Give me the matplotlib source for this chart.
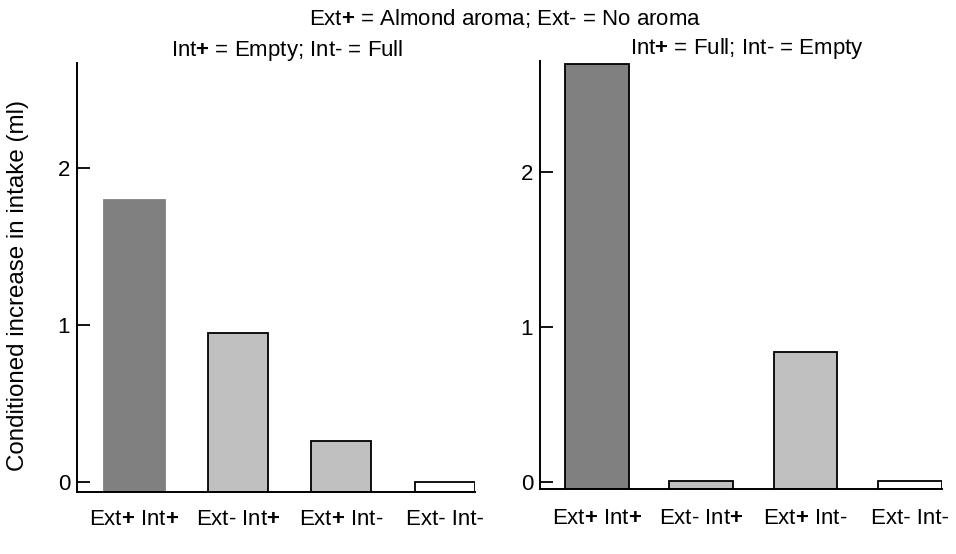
import matplotlib
matplotlib.use("Agg")
import matplotlib.pyplot as plt
import numpy as np

plt.rcParams["font.family"] = ["Liberation Sans", "DejaVu Sans"]
plt.rcParams["mathtext.fontset"] = "custom"
plt.rcParams["mathtext.rm"] = "Liberation Sans"
plt.rcParams["mathtext.bf"] = "Liberation Sans:bold"

# bar groups, same order in both panels
categories = [r"Ext$\mathbf{+}$ Int$\mathbf{+}$", r"Ext- Int$\mathbf{+}$",
              r"Ext$\mathbf{+}$ Int-", "Ext- Int-"]
empty_vals = [1.80, 0.95, 0.26, 0.0]   # Int+ = Empty
full_vals = [2.70, 0.01, 0.84, 0.01]   # Int+ = Full
bar_colors = ["#808080", "#c0c0c0", "#c0c0c0", "#ffffff"]

fs = 16

fig = plt.figure(figsize=(9.56, 5.54), dpi=100)
ax1 = fig.add_axes([0.0805, 0.1119, 0.4163, 0.7744])
ax2 = fig.add_axes([0.5649, 0.1173, 0.4205, 0.7726])


def draw_panel(ax, vals, base, top, xlim, width, edges, title, title_x, xpad):
    x = np.arange(len(vals))
    heights = [v - base for v in vals]
    ax.bar(x, heights, bottom=base, width=width, color=bar_colors,
           edgecolor=edges, linewidth=1.3)
    ax.set_ylim(base, top)
    ax.set_xlim(*xlim)
    ax.set_yticks([0, 1, 2])
    ax.set_xticks(x)
    ax.set_xticklabels(categories, fontsize=fs)
    ax.tick_params(axis="x", length=0, pad=xpad)
    ax.tick_params(axis="y", direction="in", length=9, width=1.3,
                   labelsize=fs, pad=5)
    for s in ["top", "right"]:
        ax.spines[s].set_visible(False)
    for s in ["left", "bottom"]:
        ax.spines[s].set_linewidth(1.4)
    ax.set_title(title, fontsize=fs, x=title_x, pad=4)


draw_panel(ax1, empty_vals, -0.064, 2.67, (-0.556, 3.29), 0.58,
           ["#808080", "black", "black", "black"],
           r"Int$\mathbf{+}$ = Empty; Int- = Full", 0.528, 12)
draw_panel(ax2, full_vals, -0.045, 2.72, (-0.547, 3.31), 0.61,
           "black", r"Int$\mathbf{+}$ = Full; Int- = Empty", 0.515, 14)

fig.text(0.528, 0.967, r"Ext$\mathbf{+}$ = Almond aroma; Ext- = No aroma",
         ha="center", va="center", fontsize=fs)
fig.text(0.019, 0.484, "Conditioned increase in intake (ml)", rotation=90,
         ha="center", va="center", fontsize=17.4)

fig.savefig("out.png", dpi=100)
